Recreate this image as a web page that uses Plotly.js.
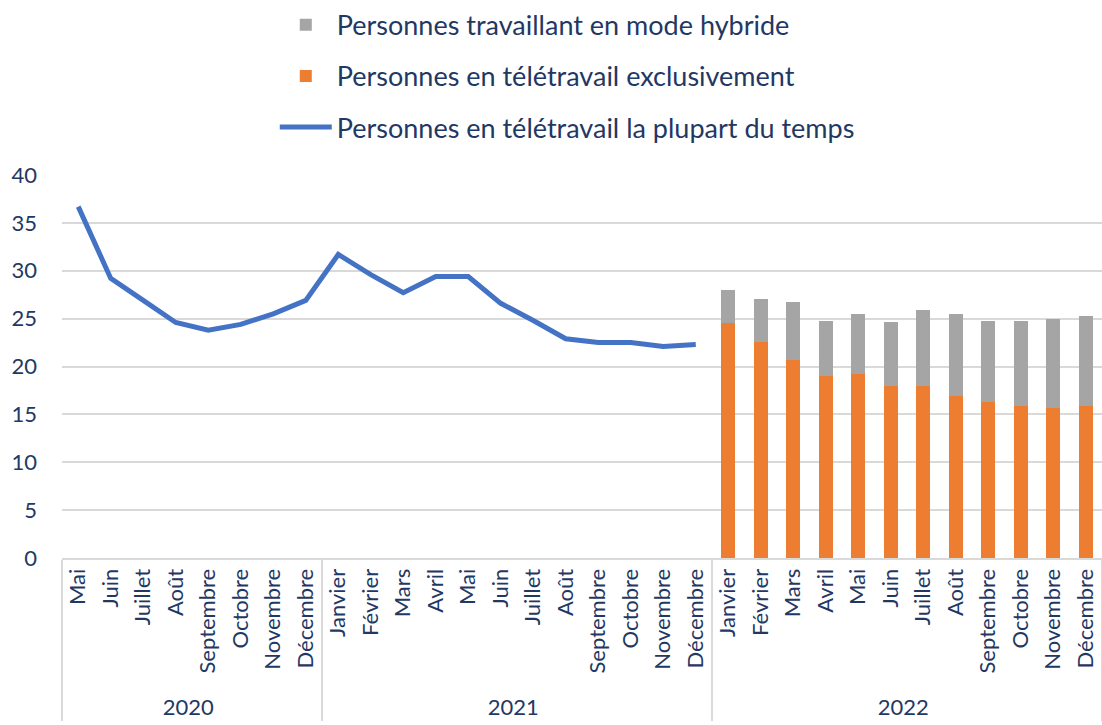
<!DOCTYPE html>
<html>
<head>
<meta charset="utf-8">
<script src="https://cdn.plot.ly/plotly-3.0.1.min.js"></script>
<style>html,body{margin:0;padding:0;background:#fff;overflow:hidden;}#chart{width:1102px;height:725px;}</style>
</head>
<body>
<div id="chart"></div>
<script>
// Line series: 2020-2021
const lineYears = ["2020","2020","2020","2020","2020","2020","2020","2020",
  "2021","2021","2021","2021","2021","2021","2021","2021","2021","2021","2021","2021"];
const lineMonths = ["Mai","Juin","Juillet","Août","Septembre","Octobre","Novembre","Décembre",
  "Janvier","Février","Mars","Avril","Mai","Juin","Juillet","Août","Septembre","Octobre","Novembre","Décembre"];
const lineValues = [36.7, 29.2, 26.9, 24.6, 23.8, 24.4, 25.5, 26.9,
  31.7, 29.6, 27.7, 29.4, 29.4, 26.6, 24.8, 22.9, 22.5, 22.5, 22.1, 22.3];

// Bars: 2022
const barYears = ["2022","2022","2022","2022","2022","2022","2022","2022","2022","2022","2022","2022"];
const barMonths = ["Janvier","Février","Mars","Avril","Mai","Juin","Juillet","Août","Septembre","Octobre","Novembre","Décembre"];
const exclusifValues = [24.5, 22.6, 20.7, 19.0, 19.2, 18.0, 18.0, 16.9, 16.3, 15.9, 15.7, 15.9];
const hybrideValues = [3.5, 4.5, 6.0, 5.8, 6.3, 6.6, 7.9, 8.6, 8.5, 8.9, 9.3, 9.4];

const seriesNames = {
  hybride: "Personnes travaillant en mode hybride",
  exclusif: "Personnes en télétravail exclusivement",
  ligne: "Personnes en télétravail la plupart du temps"
};

// Plotly orders multicategory month labels by first appearance across all years;
// the 2020 labels get an invisible zero-width space so that 2021/2022 keep calendar order.
const ZW = "\u200B";
const lineMonthKeys = lineYears.map((y, i) => y === "2020" ? lineMonths[i] + ZW : lineMonths[i]);

const FONT = "Lato, 'Open Sans', sans-serif";
const NAVY = "#1F3864";

const traces = [
  {
    type: "scatter", mode: "lines",
    x: [lineYears, lineMonthKeys], y: lineValues,
    name: seriesNames.ligne,
    line: {color: "#4472C4", width: 5},
    legendrank: 3, legendgroup: "c"
  },
  {
    type: "bar",
    x: [barYears, barMonths], y: exclusifValues,
    name: seriesNames.exclusif,
    marker: {color: "#ED7D31"},
    legendrank: 2, legendgroup: "b"
  },
  {
    type: "bar",
    x: [barYears, barMonths], y: hybrideValues,
    name: seriesNames.hybride,
    marker: {color: "#A5A5A5"},
    legendrank: 1, legendgroup: "a"
  }
];

const layout = {
  width: 1102, height: 725,
  margin: {l: 62, r: 0, t: 175, b: 167},
  paper_bgcolor: "#fff", plot_bgcolor: "#fff",
  font: {family: FONT, color: NAVY, size: 22},
  barmode: "stack",
  bargap: 0.56,
  showlegend: true,
  legend: {
    x: 0.2046, xanchor: "left", y: 1.455, yanchor: "top",
    orientation: "v",
    traceorder: "grouped",
    tracegroupgap: 13,
    itemwidth: 52,
    font: {family: FONT, size: 27, color: NAVY},
    bgcolor: "rgba(0,0,0,0)"
  },
  xaxis: {
    type: "multicategory",
    range: [-0.5, 31.5],
    tickangle: -90,
    showline: true, linecolor: "#D9D9D9", linewidth: 2,
    showgrid: false,
    ticks: "",
    showdividers: true, dividercolor: "#D9D9D9", dividerwidth: 2,
    tickfont: {family: FONT, size: 22, color: NAVY},
    fixedrange: true
  },
  yaxis: {
    range: [0, 40],
    tickvals: [0,5,10,15,20,25,30,35,40],
    showgrid: true, gridcolor: "#D9D9D9", gridwidth: 2,
    zeroline: false,
    showline: false,
    ticks: "",
    ticklabelstandoff: 24,
    tickfont: {family: FONT, size: 22, color: NAVY},
    fixedrange: true
  }
};

Plotly.newPlot("chart", traces, layout, {displayModeBar: false, staticPlot: true});
</script>
</body>
</html>
